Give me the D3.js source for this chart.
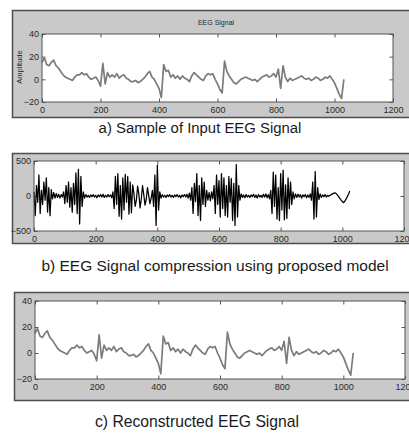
<!DOCTYPE html>
<html>
<head>
<meta charset="utf-8">
<script src="https://cdn.jsdelivr.net/npm/d3@7"></script>
<style>
body{margin:0;background:#fff;}
svg text{font-family:"Liberation Sans",Arial,sans-serif;fill:#2a2a2a;}
svg .caption{font-family:"Liberation Sans",Arial,sans-serif;fill:#1a1a1a;}
</style>
</head>
<body>
<div id="chart"></div>
<script>
// input EEG trace, every 8 samples
var inputStep = 8;
var inputAmp = [
    15, 19, 13, 12, 15, 17, 12, 10,
    7, 4, 2, 1, 0, -1, 2, 4,
    4, 6, 4, 5, 2, 0, 1, 2,
    -1, -6, 14, -4, 6, 2, 4, 2,
    5, 1, 3, 4, 1, 0, -2, -2,
    -1, -3, -2, 0, 2, 5, 7, 2,
    0, -4, -8, -16, 13, 7, 8, 2,
    4, 1, 3, 0, 3, 1, 0, -2,
    3, 6, 4, 2, 0, -1, 3, 5,
    4, 5, 0, -4, -9, -12, 16, 7,
    3, 0, -3, -4, -2, 0, 1, 2,
    1, 0, -1, 0, -2, 0, 2, 3,
    4, 2, 3, 5, 2, 9, -8, 12,
    2, -2, 1, -1, 0, 1, 2, 3,
    1, 0, 1, -1, 0, 2, 1, -1,
    0, 2, 1, 3, 0, -3, -8, -13,
    -17, 0
];
// panel c looks the same as panel a (reconstruction)
var reconAmp = [
    15, 19, 13, 12, 15, 17, 12, 10,
    7, 4, 2, 1, 0, -1, 2, 4,
    4, 6, 4, 5, 2, 0, 1, 2,
    -1, -6, 14, -4, 6, 2, 4, 2,
    5, 1, 3, 4, 1, 0, -2, -2,
    -1, -3, -2, 0, 2, 5, 7, 2,
    0, -4, -8, -16, 13, 7, 8, 2,
    4, 1, 3, 0, 3, 1, 0, -2,
    3, 6, 4, 2, 0, -1, 3, 5,
    4, 5, 0, -4, -9, -12, 16, 7,
    3, 0, -3, -4, -2, 0, 1, 2,
    1, 0, -1, 0, -2, 0, 2, 3,
    4, 2, 3, 5, 2, 9, -8, 12,
    2, -2, 1, -1, 0, 1, 2, 3,
    1, 0, 1, -1, 0, 2, 1, -1,
    0, 2, 1, 3, 0, -3, -8, -13,
    -17, 0
];
// compressed signal, every 4 samples
var compStep = 4;
var compAmp = [
    60, -280, 150, -90, 300, -250, 80, -120, 200, -60, 260, -230, 120, -280, 90, -40,
    50, -30, 35, -20, 25, -30, 20, -15, 60, -110, 150, -90, 200, -160, 120, -230,
    180, -120, 330, -250, 380, -400, 280, -150, 60, -30, 20, -15, 10, -20, 15, -10,
    20, -15, 10, -25, 15, -10, 20, -15, 25, -20, 10, -15, 20, -10, 15, -25,
    60, -180, 280, -120, 320, -290, 150, -330, 260, -200, 310, -90, 280, -260, 200, -240,
    160, 40, -150, -60, 140, 30, -170, -40, 150, 20, -130, -50, 120, 10, -110, -30,
    80, -150, 300, -420, 440, -200, 60, -30, 20, -15, 10, -20, 15, -10, 20, -15,
    10, -20, 15, -10, 20, -15, 10, -25, 15, -10, 20, -15, 25, -30, 40, -60,
    120, -250, 180, -80, 320, -280, 150, -350, 260, -120, 200, -150, 80, -60, 50, -70,
    60, -40, 150, -250, 300, -120, 220, -300, 320, -180, 260, -280, 150, -300, 280, -90,
    250, -350, 180, -420, 450, -300, 150, -60, 30, -20, 15, -25, 20, -15, 10, -20,
    15, -10, 25, -20, 15, -30, 20, -15, 10, -20, 25, -15, 30, -25, 20, -40,
    80, -250, 340, -150, 300, -330, 120, -350, 320, -200, 370, -340, 160, -320, 260, -180,
    200, -120, 60, -40, 30, -20, 25, -15, 20, -30, 15, -10, 20, -25, 15, -20,
    30, -60, 200, -330, 350, -300, 120, -50, 30, -20, 15, -10, 20, -15, 10, -5,
    10, 20, 30, 40, 45, 35, 15, -10, -35, -60, -80, -95, -75, -45, -10, 25,
    70
];
var xTicks = [0, 200, 400, 600, 800, 1000, 1200];
var ampTicks = [-20, 0, 20, 40];
var compTicks = [-500, 0, 500];
var captions = [
    'a) Sample of Input EEG Signal',
    'b) EEG Signal compression using proposed model',
    'c) Reconstructed EEG Signal'
];

(function(){
    var svg = d3.select('#chart').append('svg')
        .attr('width', 409).attr('height', 434);

    function toPoints(vals, step){
        return vals.map(function(v, i){ return [i * step, v]; });
    }

    function panel(cfg){
        var g = svg.append('g');
        // grey figure frame
        g.append('rect')
            .attr('x', cfg.frame[0] + 0.5).attr('y', cfg.frame[1] + 0.5)
            .attr('width', cfg.frame[2]).attr('height', cfg.frame[3])
            .attr('fill', '#c9c9c9').attr('stroke', '#4d4d4d').attr('stroke-width', 1.5);

        var x = d3.scaleLinear().domain([0, 1200]).range([cfg.box[0], cfg.box[2]]);
        var y = d3.scaleLinear().domain(cfg.yDomain).range([cfg.box[3], cfg.box[1]]);

        g.append('rect')
            .attr('x', cfg.box[0]).attr('y', cfg.box[1])
            .attr('width', cfg.box[2] - cfg.box[0]).attr('height', cfg.box[3] - cfg.box[1])
            .attr('fill', '#fff');

        // matlab style: ticks inside on all four sides
        var tl = 3.5, fmt = d3.format('d');
        var xb = d3.axisBottom(x).tickValues(xTicks).tickSizeInner(-tl).tickSizeOuter(0).tickPadding(5).tickFormat(fmt);
        var xt = d3.axisTop(x).tickValues(xTicks).tickSizeInner(-tl).tickSizeOuter(0).tickFormat('');
        var yl = d3.axisLeft(y).tickValues(cfg.yTicks).tickSizeInner(-tl).tickSizeOuter(0).tickPadding(3).tickFormat(fmt);
        var yr = d3.axisRight(y).tickValues(cfg.yTicks).tickSizeInner(-tl).tickSizeOuter(0).tickFormat('');

        var axes = [
            g.append('g').attr('transform', 'translate(0,' + cfg.box[3] + ')').call(xb),
            g.append('g').attr('transform', 'translate(0,' + cfg.box[1] + ')').call(xt),
            g.append('g').attr('transform', 'translate(' + cfg.box[0] + ',0)').call(yl),
            g.append('g').attr('transform', 'translate(' + cfg.box[2] + ',0)').call(yr)
        ];
        axes.forEach(function(a){
            a.select('.domain').remove();
            a.selectAll('line').attr('stroke', '#555');
            a.selectAll('text').style('font-size', '9px').attr('fill', '#2a2a2a')
                .attr('font-family', '"Liberation Sans",Arial,sans-serif');
        });

        var line = d3.line()
            .x(function(d){ return x(d[0]); })
            .y(function(d){ return y(d[1]); });

        g.append('path')
            .datum(cfg.points)
            .attr('d', line)
            .attr('fill', 'none')
            .attr('stroke', cfg.color)
            .attr('stroke-width', cfg.width)
            .attr('stroke-linejoin', 'round');

        g.append('rect')
            .attr('x', cfg.box[0]).attr('y', cfg.box[1])
            .attr('width', cfg.box[2] - cfg.box[0]).attr('height', cfg.box[3] - cfg.box[1])
            .attr('fill', 'none').attr('stroke', '#555').attr('stroke-width', 1);

        svg.append('text')
            .attr('class', 'caption')
            .attr('x', cfg.caption[0]).attr('y', cfg.caption[1])
            .attr('text-anchor', 'middle')
            .style('font-size', cfg.caption[3] + 'px')
            .text(cfg.caption[2]);
        return g;
    }

    var a = panel({
        frame: [12, 10, 410, 107],
        box: [42, 34, 393, 102],
        yDomain: [-20, 40], yTicks: ampTicks,
        points: toPoints(inputAmp, inputStep),
        color: '#7b7b7b', width: 1.7,
        caption: [200, 133, captions[0], 14.9]
    });
    a.append('text')
        .attr('x', 216).attr('y', 25)
        .attr('text-anchor', 'middle')
        .style('font-size', '7px')
        .text('EEG Signal');
    a.append('text')
        .attr('transform', 'translate(22,67) rotate(-90)')
        .attr('text-anchor', 'middle')
        .style('font-size', '7.5px')
        .text('Amplitude');

    panel({
        frame: [12, 153, 410, 90],
        box: [34, 161, 404, 231],
        yDomain: [-500, 500], yTicks: compTicks,
        points: toPoints(compAmp, compStep),
        color: '#000', width: 1.25,
        caption: [215, 271, captions[1], 15.5]
    });

    panel({
        frame: [14, 292, 410, 108],
        box: [35, 301, 405, 379],
        yDomain: [-20, 40], yTicks: ampTicks,
        points: toPoints(reconAmp, inputStep),
        color: '#7b7b7b', width: 1.7,
        caption: [197, 427, captions[2], 15.7]
    });
})();
</script>
</body>
</html>
